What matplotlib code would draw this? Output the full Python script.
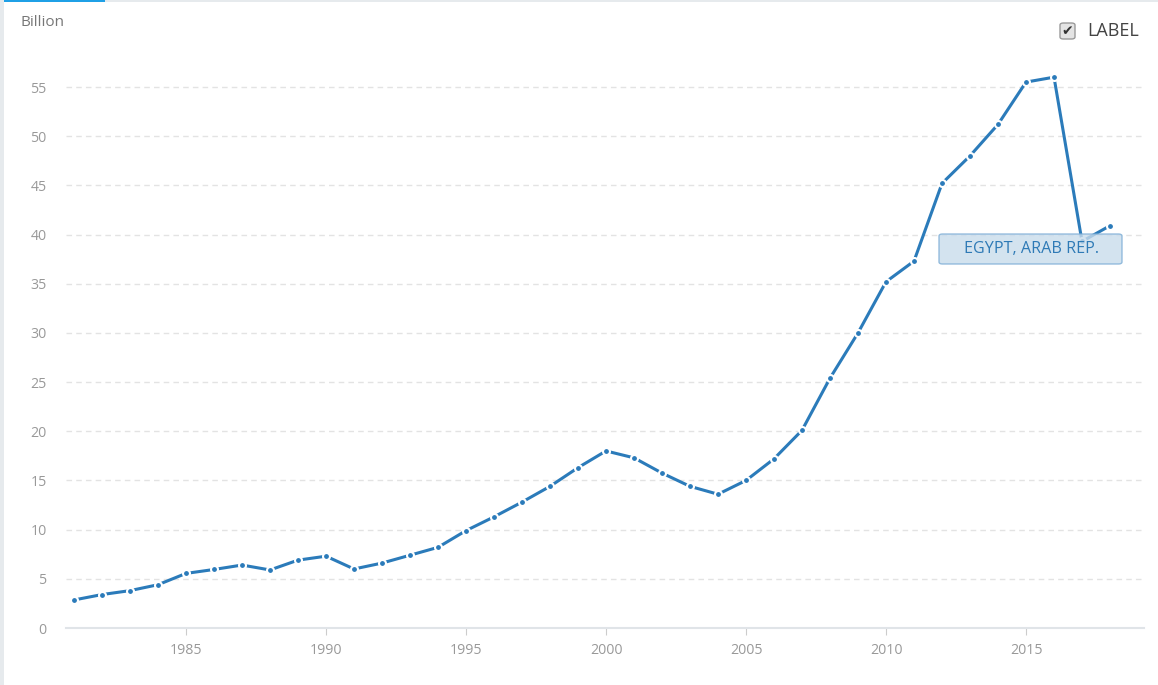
import matplotlib.pyplot as plt
from matplotlib.patches import Rectangle, FancyBboxPatch
import numpy as np

# Данные: значения по годам, млрд
years = np.arange(1981, 2019)
values = [2.85, 3.4, 3.8, 4.4, 5.55, 5.95, 6.4, 5.9, 6.9, 7.3,
          6.0, 6.6, 7.4, 8.2, 9.9, 11.3, 12.8, 14.4, 16.3, 18.0,
          17.3, 15.75, 14.4, 13.6, 15.0, 17.2, 20.1, 25.4, 30.0, 35.2,
          37.3, 45.2, 48.0, 51.2, 55.5, 56.0, 39.3, 40.9]
y_ticks = [0, 5, 10, 15, 20, 25, 30, 35, 40, 45, 50, 55]
x_ticks = [1985, 1990, 1995, 2000, 2005, 2010, 2015]
series_name = "EGYPT, ARAB REP."
unit_label = "Billion"

W, H = 1158, 685
fig = plt.figure(figsize=(W / 100, H / 100), dpi=100)
plt.rcParams['font.family'] = ['Open Sans', 'DejaVu Sans']

ax = fig.add_axes([66 / W, (H - 628) / H, (1144 - 66) / W, (628 - 57.5) / H])
line_color = '#2b7bba'
ax.plot(years, values, color=line_color, linewidth=2.2, marker='o',
        markersize=5.0, markerfacecolor=line_color, markeredgecolor='white',
        markeredgewidth=1.5, solid_joinstyle='round', zorder=3)

ax.set_xlim(1980.714, 1980.714 + 1078 / 28)
ax.set_ylim(0, 58)
ax.set_yticks(y_ticks)
ax.set_xticks(x_ticks)
ax.grid(axis='y', color='#e3e3e3', linestyle=(0, (4, 3)), linewidth=1.0)
ax.set_axisbelow(True)
for s in ['top', 'right', 'left']:
    ax.spines[s].set_visible(False)
ax.spines['bottom'].set_color('#e0e4e8')
ax.spines['bottom'].set_linewidth(1.5)
ax.tick_params(axis='y', length=0, pad=14, labelsize=10.2, labelcolor='#999999')
ax.tick_params(axis='x', length=5, width=0.8, color='#cccccc', pad=6,
               labelsize=10.2, labelcolor='#999999')

# подпись единиц
fig.text(20 / W, 1 - 22 / H, unit_label, fontsize=11, color='#777777',
         ha='left', va='center')

# "чекбокс" LABEL
cb = FancyBboxPatch((1060 / W, 1 - 39 / H), 15 / W, 16 / H,
                    boxstyle='round,pad=0,rounding_size=0.003',
                    transform=fig.transFigure, facecolor='#e4e4e4',
                    edgecolor='#9a9a9a', linewidth=1)
fig.patches.append(cb)
fig.text(1067.5 / W, 1 - 31 / H, '✔', family='DejaVu Sans', fontsize=10,
         color='#333333', ha='center', va='center')
fig.text(1087 / W, 1 - 31 / H, 'LABEL', fontsize=13, color='#444444',
         ha='left', va='center')

# подпись серии
lb = FancyBboxPatch((939 / W, 1 - 264 / H), 183 / W, 30 / H,
                    boxstyle='round,pad=0,rounding_size=0.003',
                    transform=fig.transFigure, facecolor='#c9dcec',
                    edgecolor='#7eaed6', linewidth=1, alpha=0.8, zorder=5)
fig.patches.append(lb)
fig.text(1031 / W, 1 - 249 / H, series_name, fontsize=11.6, color='#2e7ab6',
         ha='center', va='center', zorder=6)

# рамка страницы
fig.patches.append(Rectangle((0, 1 - 2 / H), 1, 2 / H, transform=fig.transFigure,
                             facecolor='#e6eaed', edgecolor='none'))
fig.patches.append(Rectangle((0, 1 - 2 / H), 105 / W, 2 / H, transform=fig.transFigure,
                             facecolor='#1fa0e6', edgecolor='none'))
fig.patches.append(Rectangle((0, 0), 4 / W, 1, transform=fig.transFigure,
                             facecolor='#e6eaed', edgecolor='none'))

fig.savefig('out.png', dpi=100)
